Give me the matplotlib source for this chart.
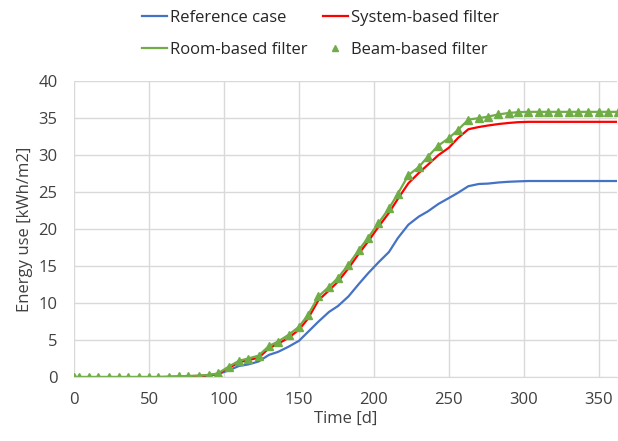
import matplotlib.pyplot as plt
from matplotlib.lines import Line2D

plt.rcParams['font.family'] = ['Open Sans', 'DejaVu Sans']

# Time axis [d]
days = [0, 3, 10, 16, 23, 30, 36, 43, 50, 56, 63, 70, 76, 83, 90, 96, 103, 110,
        116, 123, 130, 136, 143, 150, 156, 163, 170, 176, 183, 190, 196, 203, 210,
        216, 223, 230, 236, 243, 250, 256, 263, 270, 276, 283, 290, 296, 303, 310,
        316, 323, 330, 336, 343, 350, 356, 363]

# Energy use [kWh/m2]
reference = [0, 0, 0, 0, 0, 0, 0, 0, 0, 0, 0, 0.02, 0.05, 0.1, 0.2, 0.4, 0.9, 1.5,
             1.7, 2.1, 3.0, 3.4, 4.1, 4.9, 6.1, 7.5, 8.8, 9.6, 10.9, 12.6, 14.0, 15.5, 16.9,
             18.8, 20.6, 21.7, 22.4, 23.4, 24.2, 24.9, 25.8, 26.1, 26.15, 26.3, 26.4, 26.45, 26.5, 26.5,
             26.5, 26.5, 26.5, 26.5, 26.5, 26.5, 26.5, 26.5]
system = [0, 0, 0, 0, 0, 0, 0, 0, 0, 0, 0.02, 0.05, 0.1, 0.15, 0.25, 0.45, 1.2, 2.0,
          2.3, 2.6, 3.9, 4.5, 5.3, 6.4, 7.9, 10.4, 11.7, 12.9, 14.7, 16.7, 18.3, 20.3, 22.2,
          24.1, 26.2, 27.6, 28.7, 30.0, 31.0, 32.3, 33.5, 33.8, 34.0, 34.2, 34.35, 34.45, 34.5, 34.5,
          34.5, 34.5, 34.5, 34.5, 34.5, 34.5, 34.5, 34.5]
room = [0, 0, 0, 0, 0, 0, 0, 0, 0, 0, 0.05, 0.1, 0.15, 0.2, 0.3, 0.5, 1.4, 2.2,
        2.5, 2.9, 4.2, 4.8, 5.7, 6.8, 8.4, 10.9, 12.2, 13.4, 15.2, 17.2, 18.8, 20.8, 22.8,
        24.8, 27.3, 28.4, 29.8, 31.3, 32.3, 33.4, 34.8, 35.0, 35.2, 35.5, 35.7, 35.8, 35.85, 35.85,
        35.85, 35.85, 35.85, 35.85, 35.85, 35.85, 35.85, 35.85]
beam = room

blue = '#4472C4'
red = '#FF0000'
green = '#70AD47'
txt = '#404040'

fig = plt.figure(figsize=(6.18, 4.41), dpi=100)
ax = fig.add_axes([0.12, 0.145, 0.878, 0.671])

ax.plot(days, reference, color=blue, lw=1.6)
ax.plot(days, system, color=red, lw=1.6)
ax.plot(days, room, color=green, lw=1.6)
ax.plot(days, beam, ls='none', marker='^', ms=6, color=green)

ax.set_xlim(0, 362)
ax.set_ylim(0, 40)
ax.set_xticks(range(0, 351, 50))
ax.set_yticks(range(0, 41, 5))
ax.grid(True, color='#d9d9d9', lw=1)
ax.set_axisbelow(True)
for s in ['top', 'right', 'left']:
    ax.spines[s].set_visible(False)
ax.spines['bottom'].set_color('#d9d9d9')
ax.tick_params(length=0, labelsize=12, colors=txt)
ax.tick_params(axis='x', pad=11)
ax.tick_params(axis='y', pad=12)
ax.set_xlabel('Time [d]', fontsize=12, color=txt, labelpad=2)
ax.set_ylabel('Energy use [kWh/m2]', fontsize=12, color=txt, labelpad=4)

handles = [
    Line2D([], [], color=blue, lw=1.6),
    Line2D([], [], color=green, lw=1.6),
    Line2D([], [], color=red, lw=1.6),
    Line2D([], [], ls='none', marker='^', ms=4, color=green),
]
labels = ['Reference case', 'Room-based filter', 'System-based filter', 'Beam-based filter']
fig.legend(handles, labels, ncol=2, loc='upper left', bbox_to_anchor=(0.23, 0.978),
           frameon=False, fontsize=12, handlelength=1.5, handletextpad=0.2,
           columnspacing=0.9, labelspacing=0.95, borderpad=0, borderaxespad=0,
           labelcolor='#262626')

fig.savefig('out.png', dpi=100)
